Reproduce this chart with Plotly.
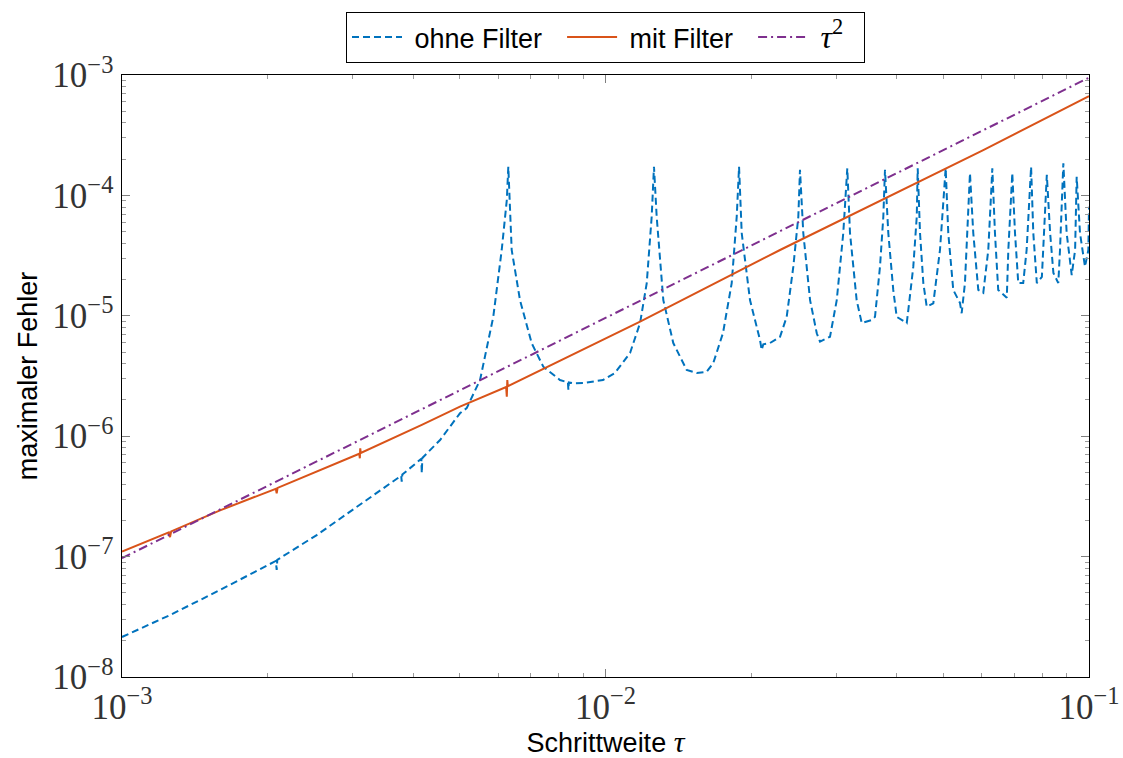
import plotly.graph_objects as go

# ---- data ----
tau_ohne = [1.000e-3, 1.257e-3, 1.595e-3, 2.080e-3, 2.089e-3, 2.095e-3, 2.528e-3, 2.735e-3,
            3.470e-3, 3.780e-3, 3.789e-3, 3.800e-3, 4.160e-3, 4.169e-3, 4.180e-3, 4.548e-3,
            5.000e-3, 5.163e-3, 5.502e-3, 5.860e-3, 6.100e-3, 6.250e-3, 6.295e-3, 6.397e-3,
            6.655e-3, 7.037e-3, 7.436e-3, 8.050e-3, 8.360e-3, 8.380e-3, 8.400e-3, 8.580e-3,
            8.985e-3, 9.880e-3, 1.046e-2, 1.124e-2, 1.179e-2, 1.217e-2, 1.246e-2, 1.2597e-2,
            1.276e-2, 1.317e-2, 1.381e-2, 1.472e-2, 1.544e-2, 1.619e-2, 1.671e-2, 1.750e-2,
            1.824e-2, 1.868e-2, 1.889e-2, 1.913e-2, 1.990e-2, 2.087e-2, 2.104e-2, 2.120e-2,
            2.189e-2, 2.296e-2, 2.370e-2, 2.446e-2, 2.505e-2, 2.525e-2, 2.565e-2, 2.649e-2,
            2.735e-2, 2.778e-2, 2.913e-2, 3.008e-2, 3.103e-2, 3.163e-2, 3.204e-2, 3.307e-2,
            3.388e-2, 3.553e-2, 3.609e-2, 3.696e-2, 3.755e-2, 3.785e-2, 3.845e-2, 3.937e-2,
            4.002e-2, 4.198e-2, 4.230e-2, 4.331e-2, 4.403e-2, 4.423e-2, 4.472e-2, 4.543e-2,
            4.617e-2, 4.764e-2, 4.918e-2, 4.996e-2, 5.053e-2, 5.116e-2, 5.239e-2, 5.409e-2,
            5.453e-2, 5.539e-2, 5.628e-2, 5.673e-2, 5.763e-2, 5.902e-2, 6.044e-2, 6.190e-2,
            6.290e-2, 6.310e-2, 6.390e-2, 6.490e-2, 6.760e-2, 6.810e-2, 6.940e-2, 7.030e-2,
            7.140e-2, 7.310e-2, 7.430e-2, 7.590e-2, 7.670e-2, 7.800e-2, 7.990e-2, 8.180e-2,
            8.310e-2, 8.440e-2, 8.640e-2, 8.710e-2, 8.850e-2, 8.990e-2, 9.210e-2, 9.360e-2,
            9.430e-2, 9.580e-2, 9.810e-2, 9.970e-2, 1.000e-1]
err_ohne = [2.15e-8, 3.27e-8, 5.28e-8, 9.2e-8, 7.75e-8, 9.4e-8, 1.51e-7, 1.89e-7,
            3.69e-7, 4.7e-7, 4.19e-7, 4.8e-7, 6.5e-7, 4.92e-7, 6.6e-7, 9.3e-7,
            1.55e-6, 1.71e-6, 2.93e-6, 9.8e-6, 3.52e-5, 9.16e-5, 1.73e-4, 3.52e-5,
            1.35e-5, 5.91e-6, 3.78e-6, 2.93e-6, 2.8e-6, 2.42e-6, 2.8e-6, 2.75e-6,
            2.76e-6, 2.93e-6, 3.35e-6, 4.91e-6, 8.71e-6, 1.87e-5, 6.65e-5, 1.73e-4,
            6.65e-5, 1.35e-5, 5.94e-6, 3.55e-6, 3.35e-6, 3.43e-6, 4.06e-6, 7.2e-6,
            1.87e-5, 6.65e-5, 1.73e-4, 4.87e-5, 1.35e-5, 6.3e-6, 5.2e-6, 5.8e-6,
            5.94e-6, 6.7e-6, 9.8e-6, 2.56e-5, 6.65e-5, 1.63e-4, 4.87e-5, 1.35e-5,
            7.16e-6, 6.1e-6, 6.7e-6, 1.35e-5, 4.87e-5, 1.68e-4, 4.87e-5, 1.35e-5,
            8.71e-6, 9.23e-6, 9.8e-6, 2.56e-5, 6.65e-5, 1.63e-4, 4.87e-5, 1.64e-5,
            9.8e-6, 8.71e-6, 1.12e-5, 2.56e-5, 6.65e-5, 1.68e-4, 4.87e-5, 1.87e-5,
            1.19e-5, 1.27e-5, 3.52e-5, 9.16e-5, 1.68e-4, 4.87e-5, 1.64e-5, 1.28e-5,
            1.05e-5, 1.87e-5, 6.65e-5, 1.53e-4, 4.87e-5, 1.64e-5, 1.55e-5, 3.52e-5,
            1.27e-4, 1.68e-4, 4.87e-5, 1.64e-5, 1.41e-5, 3.52e-5, 1.53e-4, 4.87e-5,
            1.87e-5, 1.87e-5, 3.52e-5, 1.73e-4, 4.87e-5, 1.87e-5, 2.11e-5, 1.48e-4,
            4.87e-5, 2.27e-5, 1.87e-5, 3.52e-5, 1.85e-4, 4.87e-5, 2.18e-5, 3.52e-5,
            1.43e-4, 4.87e-5, 2.56e-5, 3.52e-5, 8.05e-5]

tau_mit = [1.000e-3, 1.250e-3, 1.257e-3, 1.264e-3, 1.595e-3, 2.080e-3, 2.089e-3, 2.098e-3,
           3.095e-3, 3.104e-3, 3.110e-3, 3.118e-3, 4.169e-3, 5.000e-3, 6.230e-3, 6.250e-3,
           6.265e-3, 6.280e-3, 1.179e-2, 2.087e-2, 2.296e-2, 6.044e-2, 1.000e-1]
err_mit = [1.10e-7, 1.59e-7, 1.45e-7, 1.62e-7, 2.42e-7, 3.66e-7, 3.36e-7, 3.72e-7,
           7.15e-7, 6.55e-7, 7.94e-7, 7.25e-7, 1.24e-6, 1.76e-6, 2.56e-6, 2.13e-6,
           2.93e-6, 2.60e-6, 8.93e-6, 2.91e-5, 3.52e-5, 2.38e-4, 6.69e-4]

tau_ref = [1.0e-3, 1.0e-1]
err_ref = [9.7e-8, 9.5e-4]

SP = "&nbsp;"
names = [SP + "ohne Filter" + SP * 2,
         SP + "mit Filter" + SP * 2,
         SP + "<span style='font-family:\"Liberation Serif\";font-size:32px'><i>τ</i><sup>2</sup></span>" + SP * 2]
colors = ["#0072BD", "#D95319", "#7E2F8E"]

fig = go.Figure()
fig.add_trace(go.Scatter(x=tau_ohne, y=err_ohne, mode="lines", name=names[0],
                         line=dict(color=colors[0], width=2, dash="7px,4px")))
fig.add_trace(go.Scatter(x=tau_mit, y=err_mit, mode="lines", name=names[1],
                         line=dict(color=colors[1], width=2)))
fig.add_trace(go.Scatter(x=tau_ref, y=err_ref, mode="lines", name=names[2],
                         line=dict(color=colors[2], width=2, dash="9px,4px,2px,4px")))

axis_common = dict(
    type="log", showline=True, linecolor="black", linewidth=1, mirror="allticks",
    ticks="inside", ticklen=8, tickcolor="#7f7f7f", tickwidth=1, dtick=1,
    exponentformat="power", showgrid=False, zeroline=False, automargin=False,
    tickfont=dict(family="Liberation Serif", size=28, color="#333"),
    minor=dict(ticks="inside", ticklen=4, tickcolor="#9a9a9a", dtick="D1", showgrid=False),
)

fig.update_layout(
    width=1123, height=758,
    margin=dict(l=122, r=34, t=75, b=81),
    plot_bgcolor="white", paper_bgcolor="white",
    font=dict(family="Liberation Sans", size=27, color="black"),
    xaxis=dict(range=[-3, -1],
               title=dict(text="Schrittweite <span style='font-family:\"Liberation Serif\";font-size:30px'><i>τ</i></span>",
                          standoff=10, font=dict(size=27)),
               **axis_common),
    yaxis=dict(range=[-8, -3], ticklabelstandoff=2,
               title=dict(text="maximaler Fehler", standoff=6, font=dict(size=27)),
               **axis_common),
    legend=dict(orientation="h", x=0.5, xanchor="center", y=1.02, yanchor="bottom",
                bordercolor="black", borderwidth=1, bgcolor="white", itemwidth=50,
                font=dict(size=27, family="Liberation Sans")),
    showlegend=True,
)

fig.write_html("out.html", config={"displayModeBar": False},
               post_script="document.body.style.margin='0px';")
